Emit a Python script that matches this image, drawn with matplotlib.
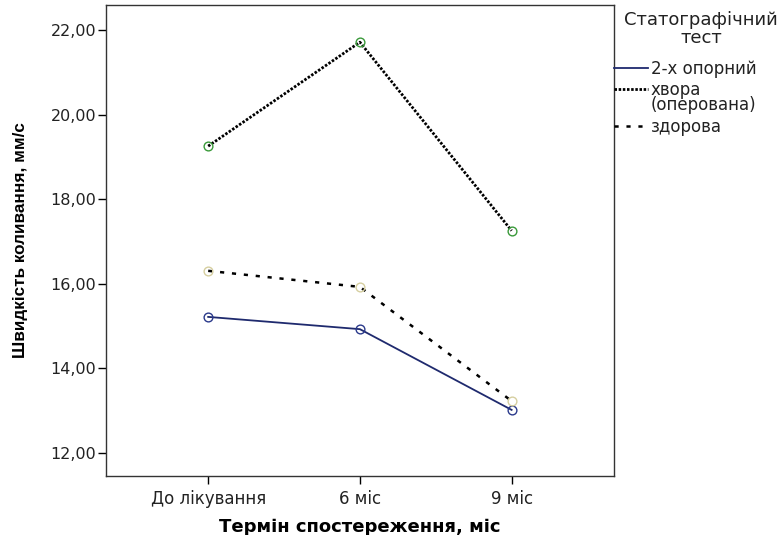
import matplotlib
matplotlib.use("Agg")
import matplotlib.pyplot as plt
from matplotlib.lines import Line2D

plt.rcParams["lines.scale_dashes"] = False

categories = ["До лікування", "6 міс", "9 міс"]
yticks = [12, 14, 16, 18, 20, 22]
ytick_labels = ["12,00", "14,00", "16,00", "18,00", "20,00", "22,00"]

legend_title = "Статографічний\nтест"
series_names = ["2-х опорний", "хвора\n(оперована)", "здорова"]
two_support = [15.22, 14.93, 13.02]
sick_operated = [19.26, 21.72, 17.26]
healthy = [16.31, 15.93, 13.23]

W, H = 780, 535
fig = plt.figure(figsize=(W / 100, H / 100), dpi=100)
ax = fig.add_axes([0.1356, 0.1103, 0.6516, 0.8804])

x = list(range(len(categories)))

styles = [
    dict(color="#1f2a6e", lw=1.3),
    dict(color="black", lw=2.0, dashes=(1.8, 1.2)),
    dict(color="black", lw=1.8, dashes=(3.0, 5.6)),
]
marker_edges = ["#2b3a8c", "#3a9a3a", "#d6cfa0"]

for vals, st, mec in zip([two_support, sick_operated, healthy], styles, marker_edges):
    ax.plot(x, vals, marker="o", ms=6.3, mfc="none", mec=mec, mew=1.0,
            zorder=3, **st)

ax.set_xlim(-0.675, 2.675)
ax.set_ylim(11.456, 22.60)
ax.set_xticks(x)
ax.set_xticklabels(categories, fontsize=12, family="DejaVu Sans", color="#222222")
ax.set_yticks(yticks)
ax.set_yticklabels(ytick_labels, fontsize=11.5, family="DejaVu Sans", color="#222222")
ax.tick_params(axis="y", direction="out", length=6, width=1, pad=1)
ax.tick_params(axis="x", direction="out", length=6, width=1, pad=4)

for side in ax.spines.values():
    side.set_linewidth(1.0)
    side.set_color("#333333")

ax.set_xlabel("Термін спостереження, міс", fontsize=13, fontweight="bold",
              family="DejaVu Sans", labelpad=7)
ax.set_ylabel("Швидкість коливання, мм/с", fontsize=12.3, fontweight="bold",
              family="Liberation Sans")
ax.yaxis.set_label_coords(-0.153, 0.5)

# legend drawn by hand: title centred, each handle level with the first line of its label
fig.text(701 / W, 1 - 29 / H, legend_title, ha="center", va="center",
         multialignment="center", fontsize=13, family="DejaVu Sans",
         color="#222222", linespacing=1.05)
rows_y = [68, 89, 126]
for name, st, yy in zip(series_names, styles, rows_y):
    fy = 1 - yy / H
    fig.add_artist(Line2D([614 / W, 648 / W], [fy, fy], transform=fig.transFigure, **st))
    fig.text(651 / W, 1 - (yy - 8) / H, name, ha="left", va="top",
             fontsize=12, family="DejaVu Sans", color="#222222", linespacing=0.82)

fig.savefig("out.png", dpi=100)
